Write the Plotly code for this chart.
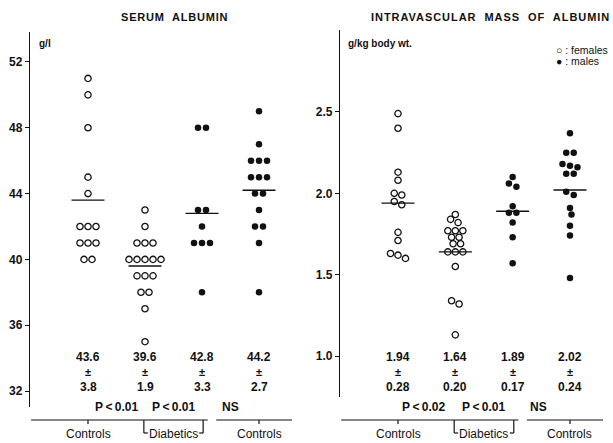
import plotly.graph_objects as go

# ---------------- data ----------------
groups = ["Controls", "Diabetics", "Controls"]

# Serum albumin (g/l): columns 1 = control females, 2 = diabetic females,
# 3 = diabetic males, 4 = control males
serum_ctrl_f = [51, 50, 48, 45, 44, 42, 42, 42, 41, 41, 41, 40, 40]
serum_diab_f = [43, 42, 41, 41, 41, 40, 40, 40, 40, 40, 39, 39, 39, 38, 38, 37, 35]
serum_diab_m = [48, 48, 43, 43, 42, 41, 41, 41, 38]
serum_ctrl_m = [49, 47, 46, 46, 46, 45, 45, 45, 44, 44, 43, 42, 42, 41, 38]
serum_mean = ["43.6", "39.6", "42.8", "44.2"]
serum_sd = ["3.8", "1.9", "3.3", "2.7"]
serum_p = ["P\u2009<\u20090.01", "P\u2009<\u20090.01", "NS"]
serum_ticks = [32, 36, 40, 44, 48, 52]

# Intravascular mass of albumin (g/kg body wt.)
mass_ctrl_f = [2.49, 2.40, 2.13, 2.08, 2.00, 1.99, 1.95, 1.93, 1.76, 1.71, 1.63, 1.62, 1.60]
mass_diab_f = [1.87, 1.84, 1.82, 1.77, 1.77, 1.77, 1.73, 1.73, 1.69, 1.69,
               1.64, 1.64, 1.64, 1.55, 1.34, 1.32, 1.13]
mass_diab_m = [2.10, 2.06, 2.04, 1.92, 1.88, 1.88, 1.82, 1.73, 1.57]
mass_ctrl_m = [2.37, 2.25, 2.25, 2.18, 2.17, 2.16, 2.12, 2.12, 2.01, 1.99,
               1.91, 1.87, 1.80, 1.74, 1.48]
mass_mean = ["1.94", "1.64", "1.89", "2.02"]
mass_sd = ["0.28", "0.20", "0.17", "0.24"]
mass_p = ["P\u2009<\u20090.02", "P\u2009<\u20090.01", "NS"]
mass_ticks = [1.0, 1.5, 2.0, 2.5]
mass_ticktext = ["1.0", "1.5", "2.0", "2.5"]

# ---------------- layout constants ----------------
W, H = 613, 443
FONT = "Liberation Sans, Arial, sans-serif"
INK = "#111111"

def pxx(p):
    return p / W

def pxy(p):
    return 1 - p / H

# panel geometry (pixels)
L_dom = [30, 292]; L_ytop, L_ybot = 32, 407
R_dom = [340, 603]; R_ytop, R_ybot = 30, 397
L_xr = [-0.0175, 4.579]; L_yr = [31.03, 53.82]
R_xr = [-0.0117, 4.576]; R_yr = [0.748, 3.004]

def px_per_unit_y(yr, top, bot):
    return (bot - top) / (yr[1] - yr[0])

def px_per_unit_x(xr, dom):
    return (dom[1] - dom[0]) / (xr[1] - xr[0])


def swarm(values, ppu_y, spacing, thresh=3.5):
    """Row-centred beeswarm offsets in pixels."""
    idx = sorted(range(len(values)), key=lambda i: -values[i])
    rows = []
    for i in idx:
        y = values[i] * ppu_y
        if rows and abs(rows[-1][-1][1] - y) < thresh:
            rows[-1].append((i, y))
        else:
            rows.append([(i, y)])
    placed = []
    offs = [0.0] * len(values)
    for row in rows:
        n = len(row)
        base = [(k - (n - 1) / 2) * spacing for k in range(n)]
        best = 0.0
        for step in range(0, 60):
            cands = [0.0] if step == 0 else [step * 0.5, -step * 0.5]
            ok_shift = None
            for s in cands:
                ok = True
                for (j, (_, y)) in enumerate(row):
                    x = base[j] + s
                    for (px_, py_) in placed:
                        if (x - px_) ** 2 + (y - py_) ** 2 < (0.88 * spacing) ** 2:
                            ok = False
                            break
                    if not ok:
                        break
                if ok:
                    ok_shift = s
                    break
            if ok_shift is not None:
                best = ok_shift
                break
        for (j, (i, y)) in enumerate(row):
            offs[i] = base[j] + best
            placed.append((base[j] + best, y))
    return offs


fig = go.Figure()

panels = [
    dict(xa="x", ya="y", xr=L_xr, yr=L_yr, dom=L_dom, top=L_ytop, bot=L_ybot,
         series=[serum_ctrl_f, serum_diab_f, serum_diab_m, serum_ctrl_m],
         mean=serum_mean, sd=serum_sd, p=serum_p, spacing=8.0,
         p_x=[1.5, 2.5, 3.5]),
    dict(xa="x2", ya="y2", xr=R_xr, yr=R_yr, dom=R_dom, top=R_ytop, bot=R_ybot,
         series=[mass_ctrl_f, mass_diab_f, mass_diab_m, mass_ctrl_m],
         mean=mass_mean, sd=mass_sd, p=mass_p, spacing=7.5,
         p_x=[1.45, 2.5, 3.45]),
]

annotations = []
shapes = []
BOLD = dict(family=FONT, color=INK, weight="bold")

for pn in panels:
    ppy = px_per_unit_y(pn["yr"], pn["top"], pn["bot"])
    ppx = px_per_unit_x(pn["xr"], pn["dom"])
    for k, vals in enumerate(pn["series"]):
        col = k + 1
        offs = swarm(vals, ppy, pn["spacing"])
        xs = [col + o / ppx for o in offs]
        filled = k >= 2
        fig.add_trace(go.Scatter(
            x=xs, y=vals, mode="markers", xaxis=pn["xa"], yaxis=pn["ya"],
            showlegend=False, hoverinfo="skip",
            marker=dict(
                symbol="circle" if filled else "circle-open",
                size=6.5 if filled else 6.3,
                color=INK,
                line=dict(width=0 if filled else 1.3, color=INK),
            ),
        ))
        # mean line
        m = float(pn["mean"][k])
        half = 16.5 / ppx
        fig.add_trace(go.Scatter(
            x=[col - half, col + half], y=[m, m], mode="lines",
            xaxis=pn["xa"], yaxis=pn["ya"], showlegend=False, hoverinfo="skip",
            line=dict(color=INK, width=1.4),
        ))
        # stats text
        for txt, ypx in [(pn["mean"][k], 357), ("±", 372), (pn["sd"][k], 387)]:
            annotations.append(dict(
                x=col, y=pxy(ypx), xref=pn["xa"], yref="paper", text=txt,
                showarrow=False, xanchor="center", yanchor="middle",
                font=dict(size=12 if txt != "±" else 11, **BOLD)))
    for txt, xv in zip(pn["p"], pn["p_x"]):
        annotations.append(dict(
            x=xv, y=pxy(407), xref=pn["xa"], yref="paper", text=txt,
            showarrow=False, xanchor="center", yanchor="middle",
            font=dict(size=12, **BOLD)))
    for txt, xv in zip(groups, [1, 2.5, 4]):
        annotations.append(dict(
            x=xv, y=pxy(434), xref=pn["xa"], yref="paper", text=txt,
            showarrow=False, xanchor="center", yanchor="middle",
            font=dict(size=12, family=FONT, color=INK)))
    # bottom group line with brackets
    ly = pxy(420)
    x0 = pn["xr"][0] + 0.02
    x1 = pn["xr"][1] - 0.0
    gap0, gap1 = 3.1, 3.25
    line_style = dict(color=INK, width=1.2)
    shapes.append(dict(type="line", xref=pn["xa"], yref="paper", x0=x0, x1=gap0,
                       y0=ly, y1=ly, line=line_style))
    shapes.append(dict(type="line", xref=pn["xa"], yref="paper", x0=gap1, x1=x1,
                       y0=ly, y1=ly, line=line_style))
    for c in (1, 4):
        shapes.append(dict(type="line", xref=pn["xa"], yref="paper", x0=c, x1=c,
                           y0=ly, y1=pxy(424), line=line_style))
    for bx, foot in ((1.98, 0.07), (3.02, -0.07)):
        shapes.append(dict(type="line", xref=pn["xa"], yref="paper", x0=bx, x1=bx,
                           y0=ly, y1=pxy(433), line=line_style))
        shapes.append(dict(type="line", xref=pn["xa"], yref="paper", x0=bx,
                           x1=bx + foot, y0=pxy(433), y1=pxy(433), line=line_style))

# titles, units, legend
annotations += [
    dict(x=pxx(174), y=pxy(17), xref="paper", yref="paper",
         text='<span style="letter-spacing:0.8px">SERUM  ALBUMIN</span>',
         showarrow=False, xanchor="center", yanchor="middle",
         font=dict(size=11, **BOLD)),
    dict(x=pxx(490), y=pxy(17), xref="paper", yref="paper",
         text='<span style="letter-spacing:0.95px">INTRAVASCULAR  MASS  OF  ALBUMIN</span>',
         showarrow=False, xanchor="center", yanchor="middle",
         font=dict(size=11, **BOLD)),
    dict(x=pxx(37), y=pxy(44), xref="paper", yref="paper", text="g/l",
         showarrow=False, xanchor="left", yanchor="middle",
         font=dict(size=10, **BOLD)),
    dict(x=pxx(346), y=pxy(43), xref="paper", yref="paper", text="g/kg body wt.",
         showarrow=False, xanchor="left", yanchor="middle",
         font=dict(size=10, **BOLD)),
    dict(x=pxx(554), y=pxy(50), xref="paper", yref="paper", text="○ : females",
         showarrow=False, xanchor="left", yanchor="middle",
         font=dict(size=10.5, family=FONT, color=INK)),
    dict(x=pxx(554), y=pxy(61), xref="paper", yref="paper", text="● : males",
         showarrow=False, xanchor="left", yanchor="middle",
         font=dict(size=10.5, family=FONT, color=INK)),
]

yaxis_common = dict(showline=True, linecolor=INK, linewidth=1.3, ticks="outside",
                    ticklen=4, tickwidth=1.2, tickcolor=INK, showgrid=False,
                    zeroline=False, fixedrange=True,
                    tickfont=dict(size=12, **BOLD))
xaxis_common = dict(visible=False, fixedrange=True)

fig.update_layout(
    width=W, height=H, margin=dict(l=0, r=0, t=0, b=0),
    paper_bgcolor="white", plot_bgcolor="white", showlegend=False,
    font=dict(family=FONT, color=INK),
    xaxis=dict(domain=[pxx(L_dom[0]), pxx(L_dom[1])], range=L_xr, anchor="y",
               **xaxis_common),
    yaxis=dict(domain=[pxy(L_ybot), pxy(L_ytop)], range=L_yr, anchor="x",
               tickvals=serum_ticks, **yaxis_common),
    xaxis2=dict(domain=[pxx(R_dom[0]), pxx(R_dom[1])], range=R_xr, anchor="y2",
                **xaxis_common),
    yaxis2=dict(domain=[pxy(R_ybot), pxy(R_ytop)], range=R_yr, anchor="x2",
                tickvals=mass_ticks, ticktext=mass_ticktext, **yaxis_common),
    annotations=annotations, shapes=shapes,
)

fig.write_html("out.html")
